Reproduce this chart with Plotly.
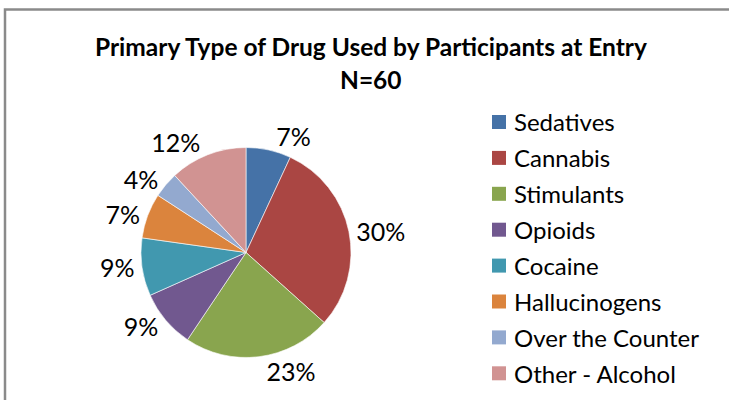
import plotly.graph_objects as go

# Primary drug type at program entry (percent of participants, N=60)
categories = ["Sedatives", "Cannabis", "Stimulants", "Opioids", "Cocaine",
              "Hallucinogens", "Over the Counter", "Other - Alcohol"]
percents = [7, 30, 23, 9, 9, 7, 4, 12]
colors = ["#4572A7", "#AA4643", "#89A54E", "#71588F", "#4198AF",
          "#DB843D", "#93A9CF", "#D19392"]

W, H = 729, 400
FONT = "Lato"

fig = go.Figure(go.Pie(
    labels=categories,
    values=percents,
    sort=False,
    direction="clockwise",
    rotation=0,
    marker=dict(colors=colors, line=dict(color="#ffffff", width=0.6)),
    texttemplate="%{value}%",
    textposition="outside",
    textfont=dict(family=FONT, size=25, color="#000000"),
    domain=dict(x=[141 / W, 351 / W], y=[42.5 / H, 252.5 / H]),
    showlegend=False,
    hoverinfo="label+value",
))

# Chart frame
fig.add_shape(type="rect", xref="paper", yref="paper",
              x0=5 / W, x1=1.05, y0=-0.05, y1=1 - 9.5 / H,
              line=dict(color="#8a8a8a", width=2.5), fillcolor="rgba(0,0,0,0)")

# Title
fig.add_annotation(text="<b>Primary Type of Drug Used by Participants at Entry</b>",
                   xref="paper", yref="paper", x=371 / W, y=1 - 46 / H,
                   showarrow=False, xanchor="center", yanchor="middle",
                   font=dict(family=FONT, size=24.5, color="#000000"))
fig.add_annotation(text="<b>N=60</b>",
                   xref="paper", yref="paper", x=371 / W, y=1 - 79 / H,
                   showarrow=False, xanchor="center", yanchor="middle",
                   font=dict(family=FONT, size=24.5, color="#000000"))

# Legend: colour swatch + category name per row
row0, step = 122, 35.9
for i, (name, col) in enumerate(zip(categories, colors)):
    yc = row0 + i * step
    fig.add_shape(type="rect", xref="paper", yref="paper",
                  x0=492 / W, x1=506 / W, y0=1 - (yc + 7) / H, y1=1 - (yc - 7) / H,
                  line=dict(width=0), fillcolor=col)
    fig.add_annotation(text=name, xref="paper", yref="paper",
                       x=512 / W, y=1 - yc / H, showarrow=False,
                       xanchor="left", yanchor="middle",
                       font=dict(family=FONT, size=24, color="#000000"))

fig.update_layout(
    width=W, height=H,
    margin=dict(l=0, r=0, t=0, b=0),
    paper_bgcolor="#ffffff",
    plot_bgcolor="#ffffff",
)

fig.write_html("out.html")
